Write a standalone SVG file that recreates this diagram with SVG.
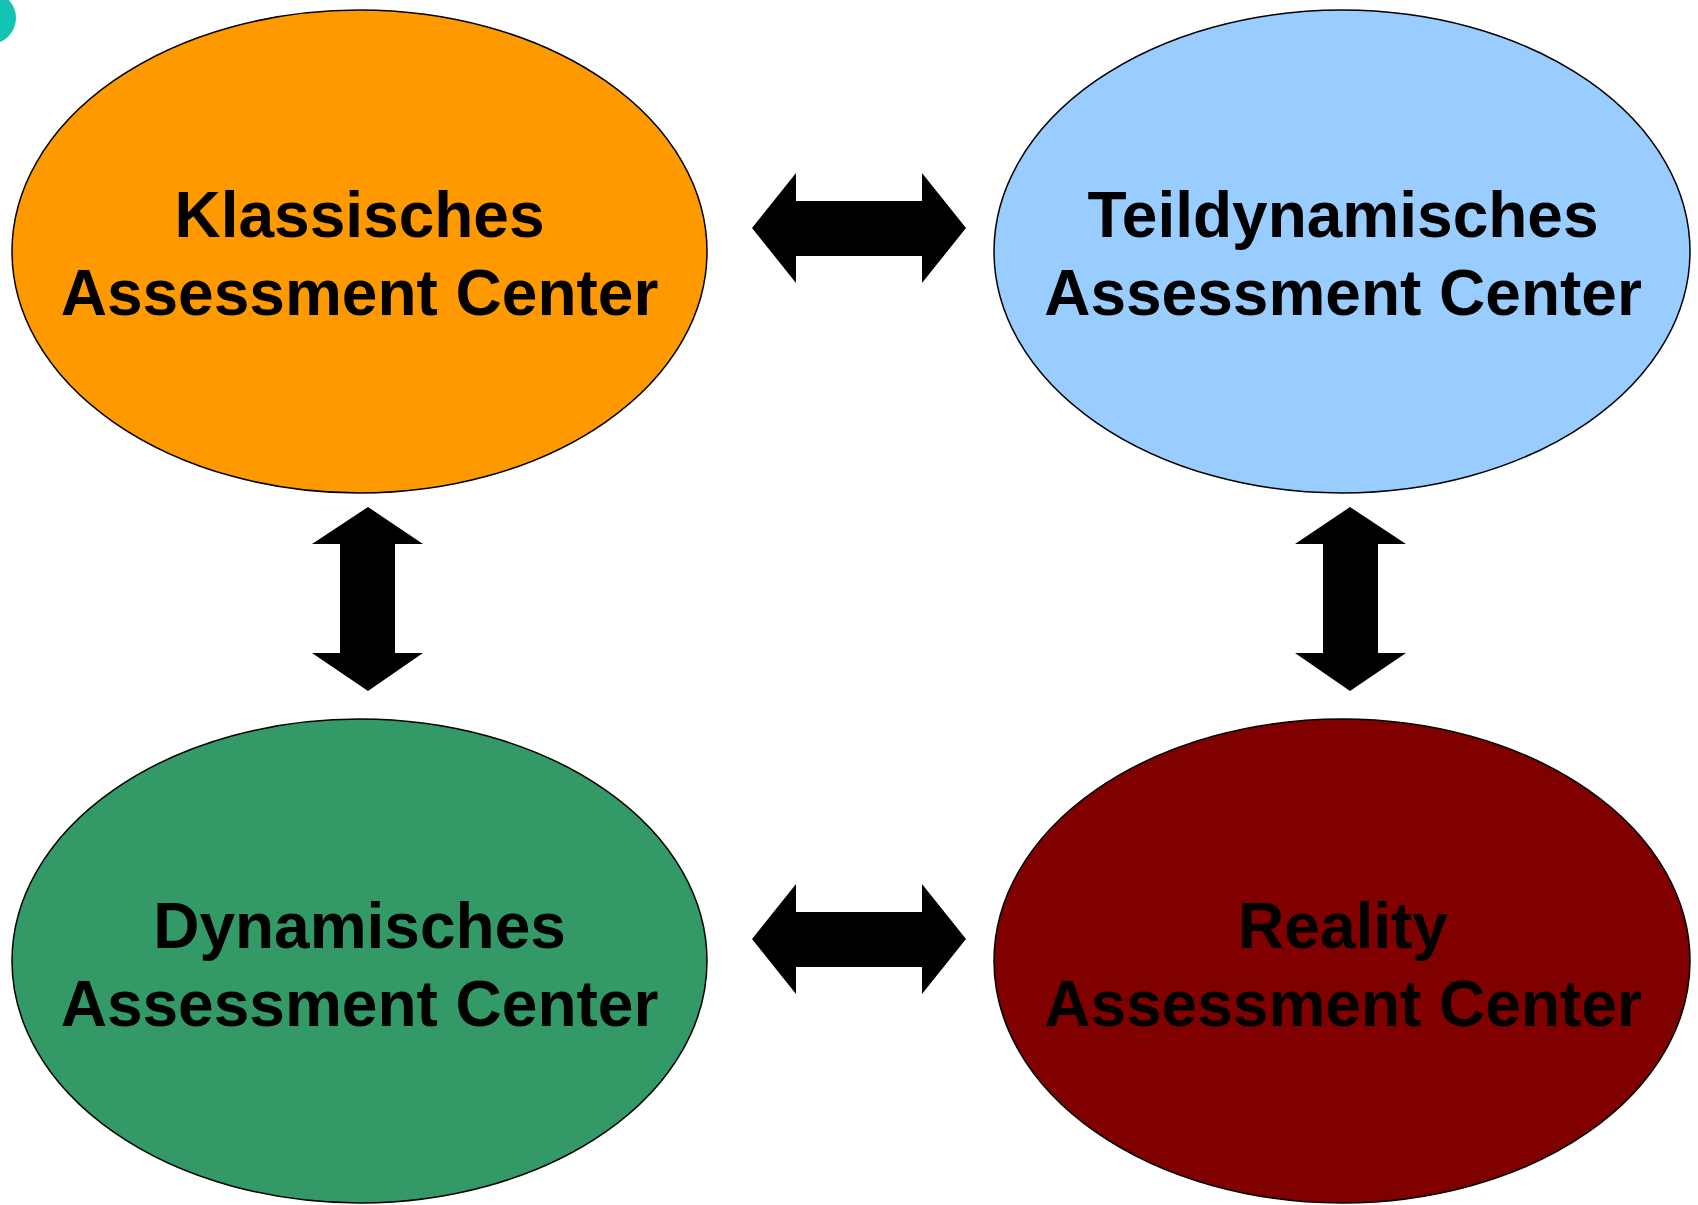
<svg xmlns="http://www.w3.org/2000/svg" width="1698" height="1205" viewBox="0 0 1698 1205">
<style>
.node ellipse{stroke:#000;stroke-width:1.5}
.lbl{font-family:"Liberation Sans",Arial,sans-serif;font-weight:bold;font-size:64px;fill:#000;text-anchor:middle}
.arr{fill:#000}
</style>
<rect width="1698" height="1205" fill="#fff"/>
<circle cx="-10" cy="18" r="26" fill="#13C4B4"/>
<g id="klassisch" class="node">
<ellipse cx="359.5" cy="251.5" rx="347.5" ry="241.5" fill="#FF9900"/>
<text class="lbl" x="359.5" y="237">Klassisches</text>
<text class="lbl" x="359.5" y="315">Assessment Center</text>
</g>
<g id="teildynamisch" class="node">
<ellipse cx="1342" cy="251.5" rx="348" ry="241.5" fill="#99CCFF"/>
<text class="lbl" x="1343" y="237">Teildynamisches</text>
<text class="lbl" x="1343" y="315">Assessment Center</text>
</g>
<g id="dynamisch" class="node">
<ellipse cx="359.5" cy="961" rx="347.5" ry="242" fill="#339966"/>
<text class="lbl" x="359.5" y="948">Dynamisches</text>
<text class="lbl" x="359.5" y="1026">Assessment Center</text>
</g>
<g id="reality" class="node">
<ellipse cx="1342" cy="961" rx="348" ry="242" fill="#800000"/>
<text class="lbl" x="1343" y="948">Reality</text>
<text class="lbl" x="1343" y="1026">Assessment Center</text>
</g>
<g id="connectors" class="arr">
<polygon points="752,228 796,173 796,201 922,201 922,173 966,228 922,283 922,256 796,256 796,283"/>
<polygon points="752,939 796,884 796,912 922,912 922,884 966,939 922,994 922,967 796,967 796,994"/>
<polygon points="368,507 423,544 395,544 395,653 423,653 368,691 312,653 340,653 340,544 312,544"/>
<polygon points="1350,507 1406,544 1378,544 1378,653 1406,653 1350,691 1295,653 1323,653 1323,544 1295,544"/>
</g>
</svg>
